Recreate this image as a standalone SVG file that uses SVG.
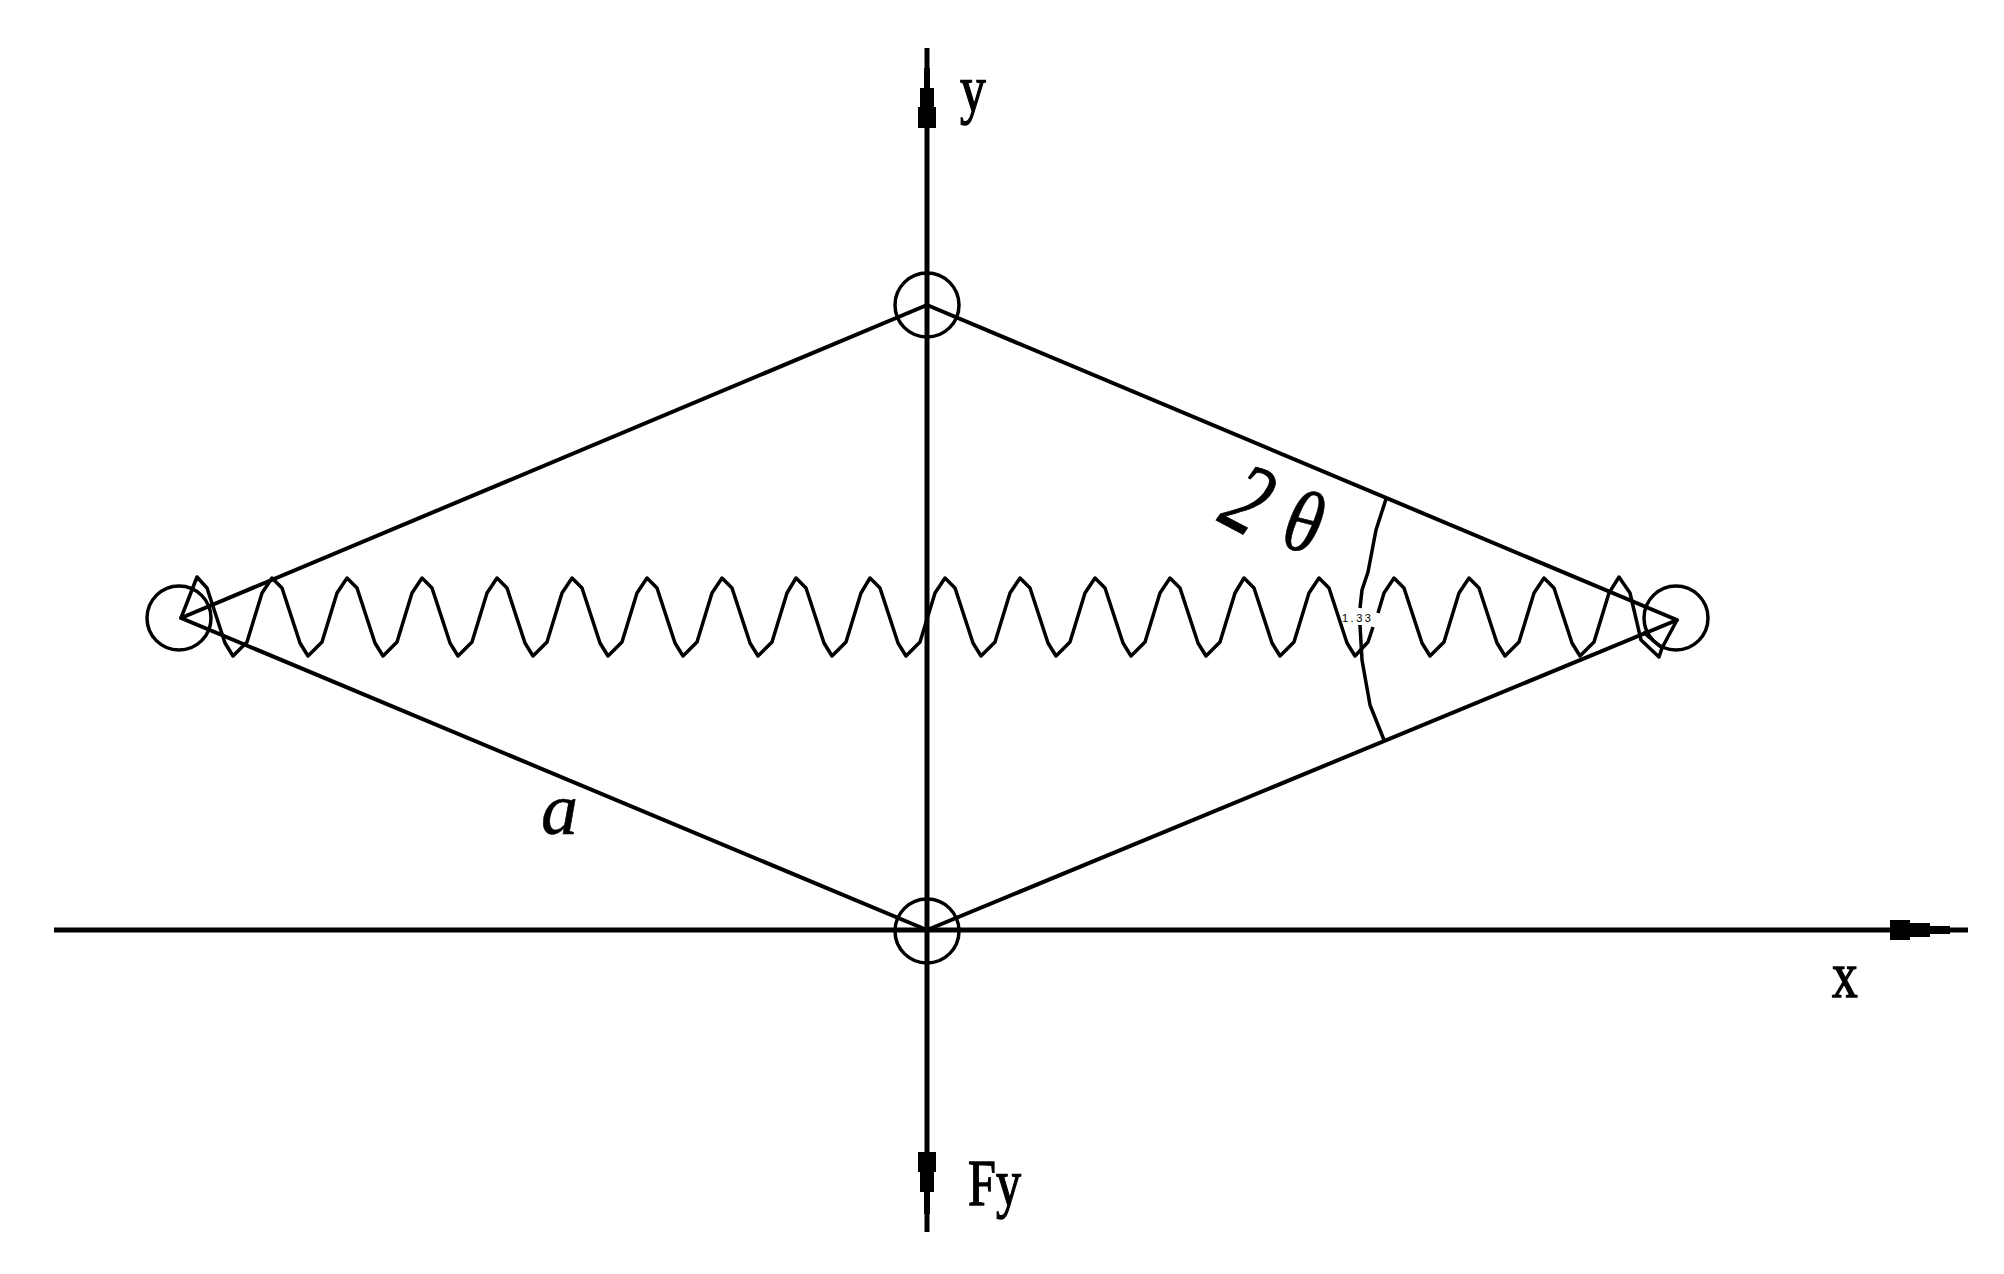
<svg xmlns="http://www.w3.org/2000/svg" width="2004" height="1274" viewBox="0 0 2004 1274">
<style>
.l{fill:none;stroke:#000;stroke-width:4;stroke-linejoin:round}
.ax{fill:none;stroke:#000;stroke-width:5}
.sp{fill:none;stroke:#000;stroke-width:3.5;stroke-linejoin:round}
.c{fill:none;stroke:#000;stroke-width:3.5}
.h{fill:#000;stroke:none}
.t{font-family:"Liberation Serif",serif;font-size:66px;fill:#000;stroke:#000;stroke-width:1.4}
.g{font-family:"Liberation Serif",serif;font-style:italic;fill:#000;stroke:#000}
</style>
<rect width="2004" height="1274" fill="#fff"/>
<g id="connectors">
<path id="axis-y" class="ax" d="M927 48V1232"/>
<path id="axis-x" class="ax" d="M54 930H1968"/>
<path id="arrow-y" class="h" d="M924 68H930V88H934V107H936V128H918V107H920V88H924Z"/>
<path id="arrow-fy" class="h" d="M918 1152H936V1172H934V1192H930V1214H924V1192H920V1172H918Z"/>
<path id="arrow-x" class="h" d="M1890 920H1910V923H1930V926H1950V934H1930V937H1910V940H1890Z"/>
<path id="rhombus" class="l" d="M181 618L927 305L1677 620L927 930Z"/>
<path id="arc-top" class="sp" d="M1386 499L1376 530L1368 572L1362 590L1360 608"/>
<path id="arc-bottom" class="sp" d="M1360 625L1362 660L1370 705L1384 740"/>
<path id="spring" class="sp" d="M181 618L197 577L207 588L225 643L233 656L247 642L262 593L272 578L282 588L300 643L308 656L322 642L337 593L347 578L357 588L375 643L383 656L397 642L412 593L422 578L432 588L450 643L458 656L472 642L487 593L497 578L507 588L525 643L533 656L547 642L562 593L572 578L582 588L600 643L608 656L622 642L637 593L647 578L657 588L675 643L683 656L697 642L712 593L722 578L732 588L750 643L758 656L772 642L787 593L796 578L806 588L824 643L832 656L846 642L861 593L870 578L880 588L898 643L906 656L920 642L935 593L945 578L955 588L973 643L981 656L995 642L1010 593L1020 578L1030 588L1048 643L1056 656L1070 642L1085 593L1095 578L1105 588L1123 643L1131 656L1145 642L1160 593L1170 578L1180 588L1198 643L1206 656L1220 642L1235 593L1244 578L1254 588L1272 643L1280 656L1294 642L1309 593L1319 578L1329 588L1347 643L1355 656L1368 642L1373 627"/>
<path id="spring-end" class="sp" d="M1378 613L1384 593L1394 578L1404 588L1422 643L1430 656L1444 642L1459 593L1469 578L1479 588L1497 643L1505 656L1519 642L1534 593L1544 578L1554 588L1572 643L1580 656L1594 642L1609 593L1619 577L1630 593L1641 640L1659 657L1662 648L1643 632M1662 648L1677 620"/>
</g>
<g id="node-top"><circle class="c" cx="927" cy="305" r="32"/></g>
<g id="node-left"><circle class="c" cx="179" cy="618" r="32"/></g>
<g id="node-right"><circle class="c" cx="1676" cy="618" r="32"/></g>
<g id="node-bottom"><circle class="c" cx="927" cy="931" r="32"/></g>
<g id="labels">
<text class="t" transform="translate(960 111) scale(.78 1)">y</text>
<text class="t" transform="translate(968 1205) scale(.76 1)">Fy</text>
<text class="t" transform="translate(1832 997) scale(.78 1)">x</text>
<text class="g" font-size="74" stroke-width=".6" transform="translate(541 834)">a</text>
<text class="g" font-size="102" stroke-width="1" transform="translate(1216 520) rotate(28) scale(.75 1)">2</text>
<text class="g" font-size="88" stroke-width=".6" transform="translate(1279 546) rotate(14) scale(.85 1)">θ</text>
<text font-family="'Liberation Sans',sans-serif" font-size="11" letter-spacing="2.5" x="1342" y="622">1.33</text>
</g>
</svg>
